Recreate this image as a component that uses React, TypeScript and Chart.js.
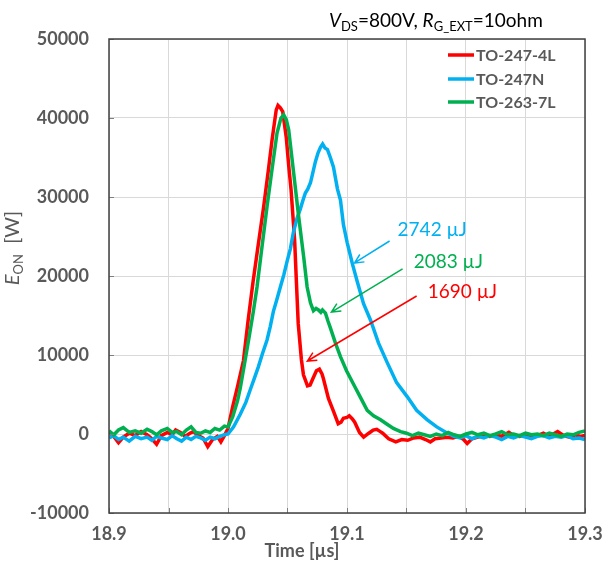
import React, { useEffect, useRef } from "react";
import { Chart, registerables } from "chart.js";

Chart.register(...registerables);

// ---------- Data ----------
const seriesNames = ["TO-247-4L", "TO-247N", "TO-263-7L"];
const seriesColors = ["#ff0000", "#00b0f0", "#00b050"];

const redTime = [
  18.9, 18.904, 18.908, 18.912, 18.917, 18.922, 18.927, 18.932, 18.936, 18.94, 18.944, 18.949, 18.953, 18.956,
  18.96, 18.964, 18.968, 18.971, 18.975, 18.979, 18.983, 18.987, 18.991, 18.994, 18.997, 19.0, 19.004, 19.008,
  19.013, 19.017, 19.021, 19.025, 19.03, 19.034, 19.037, 19.0405, 19.042, 19.044, 19.046, 19.049, 19.051, 19.053,
  19.056, 19.0575, 19.059, 19.0617, 19.0634, 19.0668, 19.069, 19.071, 19.0743, 19.0768, 19.079, 19.0802, 19.0844,
  19.0886, 19.0926, 19.095, 19.097, 19.1, 19.1019, 19.1045, 19.1065, 19.1105, 19.114, 19.1183, 19.122, 19.125,
  19.128, 19.13, 19.135, 19.141, 19.146, 19.151, 19.156, 19.161, 19.166, 19.17, 19.174, 19.179, 19.184, 19.189,
  19.194, 19.198, 19.201, 19.205, 19.21, 19.215, 19.22, 19.225, 19.23, 19.236, 19.24, 19.245, 19.25, 19.255,
  19.26, 19.265, 19.27, 19.277, 19.282, 19.287, 19.292, 19.296, 19.3,
];
const redPower = [
  200, -300, -1100, -400, 100, -200, 300, -100, -600, -1300, -200, 200, -100, 500,
  200, -300, 100, 300, -200, -500, -1600, -700, -300, -1000, -200, 700, 3500, 6000,
  9300, 14500, 19200, 23500, 28800, 33500, 37200, 41000, 41600, 41300, 40800, 37500, 34000, 30900,
  24500, 19200, 14000, 9400, 7500, 6100, 6200, 6900, 8000, 8200, 7600, 7000, 4500,
  2900, 1300, 1500, 2000, 2100, 2300, 1900, 1500, 200, -400, 100, 500, 600,
  300, 100, -600, -1000, -700, -800, -500, -400, -700, -1000, -600, -500, -400, -500,
  -300, -700, -1200, -600, -400, -200, -300, -100, -300, 200, -200, -300, -100, -300,
  -200, 100, -300, 300, -200, -400, -100, -300, -200,
];

const blueTime = [
  18.9, 18.904, 18.908, 18.912, 18.917, 18.922, 18.927, 18.932, 18.936, 18.94, 18.944, 18.949, 18.953, 18.957,
  18.961, 18.965, 18.969, 18.973, 18.977, 18.981, 18.985, 18.989, 18.993, 18.997, 19.0, 19.0047, 19.0103, 19.015,
  19.0187, 19.0225, 19.0255, 19.029, 19.0328, 19.0355, 19.0381, 19.041, 19.044, 19.047, 19.0499, 19.0525, 19.0549,
  19.058, 19.0608, 19.063, 19.065, 19.067, 19.0693, 19.0715, 19.0735, 19.0757, 19.0777, 19.0795, 19.0815, 19.0836,
  19.086, 19.0886, 19.092, 19.0945, 19.097, 19.1002, 19.1046, 19.1086, 19.1139, 19.1198, 19.1265, 19.1339, 19.1417,
  19.1507, 19.1585, 19.1675, 19.1754, 19.1844, 19.19, 19.195, 19.2, 19.205, 19.21, 19.215, 19.22, 19.225, 19.23,
  19.235, 19.24, 19.245, 19.25, 19.255, 19.26, 19.265, 19.27, 19.275, 19.28, 19.285, 19.29, 19.295, 19.3,
];
const bluePower = [
  -500, -200, -700, -400, -900, -300, -600, -400, -800, -300, -500, -700, -200, -600,
  -900, -400, -700, -300, -500, -800, -400, -600, -300, -100, 0, 900, 2500, 4000,
  5600, 7200, 8500, 10200, 11900, 13600, 15500, 17000, 18600, 20200, 22000, 23500, 25500,
  27300, 28500, 29600, 30500, 31000, 31800, 33200, 34500, 35600, 36300, 36700, 36200, 36000,
  35000, 33800, 31000, 29600, 26500, 24200, 21500, 19300, 16500, 14400, 11500, 9000, 6500,
  4700, 3000, 1800, 900, 100, -300, -500, -200, -600, -300, -500, -200, -400, -700,
  -300, -500, -200, -400, -600, -300, -200, -500, -300, -400, -200, -600, -500, -700,
];

const greenTime = [
  18.9, 18.904, 18.908, 18.912, 18.917, 18.922, 18.927, 18.932, 18.936, 18.94, 18.944, 18.949, 18.953, 18.957,
  18.961, 18.965, 18.969, 18.973, 18.977, 18.981, 18.985, 18.989, 18.993, 18.997, 19.0, 19.004, 19.008, 19.0103,
  19.014, 19.018, 19.0213, 19.0244, 19.028, 19.0328, 19.037, 19.0412, 19.0445, 19.0468, 19.049, 19.051, 19.0552,
  19.0594, 19.0636, 19.0665, 19.0693, 19.0718, 19.074, 19.076, 19.078, 19.0794, 19.0819, 19.084, 19.0861, 19.0903,
  19.0945, 19.0996, 19.1055, 19.1114, 19.117, 19.1223, 19.1282, 19.134, 19.139, 19.145, 19.15, 19.155, 19.16,
  19.165, 19.17, 19.175, 19.18, 19.185, 19.19, 19.195, 19.2, 19.205, 19.21, 19.215, 19.22, 19.225, 19.23, 19.235,
  19.24, 19.245, 19.25, 19.255, 19.26, 19.265, 19.27, 19.275, 19.28, 19.285, 19.29, 19.295, 19.3,
];
const greenPower = [
  400, -100, 500, 800, 200, 400, 100, 600, 300, -100, 400, 700, 200, 300,
  -100, 500, 900, 200, 100, 400, 200, 700, 500, 1000, 900, 2200, 4200, 5800,
  9000, 12500, 15500, 18600, 23000, 28800, 33500, 38100, 40000, 40400, 39800, 38500, 33000,
  27500, 22400, 18600, 16600, 15600, 15900, 15700, 15400, 15700, 15300, 14300, 13400, 11500,
  9800, 8000, 6300, 4600, 3000, 2300, 1800, 1200, 700, 300, 100, -200, 100,
  -100, -300, 0, -200, 200, -100, -300, 0, 200, -100, 100, -200, 0, 300, -100,
  0, -200, 100, -100, 0, -200, 100, -100, -300, 0, -100, 200, 400,
];

// axis ranges / ticks
const xMin = 18.9;
const xMax = 19.3;
const xGridStep = 0.05;
const yMin = -10000;
const yMax = 50000;
const yStep = 10000;

// annotations (data coordinates)
const annoLabels = ["2742 µJ", "2083 µJ", "1690 µJ"];
const annoColors = ["#00b0f0", "#00b050", "#ff0000"];
const annoTextTime = [19.1425, 19.156, 19.1678];
const annoTextPower = [25820, 21770, 17970];
const arrowTailTime = [19.1358, 19.1467, 19.1585];
const arrowTailPower = [24430, 20890, 17470];
const arrowHeadTime = [19.1063, 19.0869, 19.0667];
const arrowHeadPower = [21650, 15440, 9240];

const FONT = "Lato, 'Open Sans', sans-serif";
const GREY = "#595959";

function zip(t: number[], v: number[]) {
  return t.map((x, i) => ({ x, y: v[i] }));
}

type Seg = { text: string; font: string; dy: number };

function drawSegments(ctx: CanvasRenderingContext2D, segs: Seg[], x: number, y: number) {
  let cx = x;
  for (const s of segs) {
    ctx.font = s.font;
    ctx.fillText(s.text, cx, y + s.dy);
    cx += ctx.measureText(s.text).width;
  }
  return cx - x;
}
function measureSegments(ctx: CanvasRenderingContext2D, segs: Seg[]) {
  let w = 0;
  for (const s of segs) {
    ctx.font = s.font;
    w += ctx.measureText(s.text).width;
  }
  return w;
}

const decorPlugin = {
  id: "decor",
  afterDraw(chart: any) {
    const ctx: CanvasRenderingContext2D = chart.ctx;
    const { left, right, top, bottom } = chart.chartArea;
    const xs = chart.scales.x;
    const ys = chart.scales.y;
    ctx.save();

    // inner tick stubs
    ctx.strokeStyle = "#7f7f7f";
    ctx.lineWidth = 1;
    ctx.beginPath();
    for (let k = 0; k <= Math.round((xMax - xMin) / xGridStep); k++) {
      const px = Math.round(xs.getPixelForValue(xMin + k * xGridStep)) + 0.5;
      ctx.moveTo(px, bottom);
      ctx.lineTo(px, bottom - 5);
    }
    for (let v = yMin; v <= yMax; v += yStep) {
      const py = Math.round(ys.getPixelForValue(v)) + 0.5;
      ctx.moveTo(left, py);
      ctx.lineTo(left + 5, py);
    }
    ctx.stroke();

    // plot border
    ctx.strokeStyle = "#404040";
    ctx.lineWidth = 1.5;
    ctx.strokeRect(left, top, right - left, bottom - top);

    // title
    ctx.fillStyle = "#000";
    ctx.textBaseline = "alphabetic";
    ctx.textAlign = "left";
    const titleSegs: Seg[] = [
      { text: "V", font: `italic 19px ${FONT}`, dy: 0 },
      { text: "DS", font: `13px ${FONT}`, dy: 4 },
      { text: "=800V, ", font: `19px ${FONT}`, dy: 0 },
      { text: "R", font: `italic 19px ${FONT}`, dy: 0 },
      { text: "G_EXT", font: `13px ${FONT}`, dy: 4 },
      { text: "=10ohm", font: `19px ${FONT}`, dy: 0 },
    ];
    drawSegments(ctx, titleSegs, 329, 27);

    // y axis title (rotated)
    ctx.save();
    ctx.translate(19, 248);
    ctx.rotate(-Math.PI / 2);
    ctx.fillStyle = GREY;
    const ySegs: Seg[] = [
      { text: "E", font: `italic 20px ${FONT}`, dy: 0 },
      { text: "ON", font: `13px ${FONT}`, dy: 4 },
      { text: "  [W]", font: `20px ${FONT}`, dy: 0 },
    ];
    const yw = measureSegments(ctx, ySegs);
    drawSegments(ctx, ySegs, -yw / 2, 0);
    ctx.restore();

    // x axis title
    ctx.fillStyle = GREY;
    ctx.font = `bold 18px ${FONT}`;
    ctx.textAlign = "center";
    ctx.textBaseline = "middle";
    ctx.fillText("Time [µs]", 302, 551);

    // legend
    ctx.textAlign = "left";
    ctx.font = `bold 16px ${FONT}`;
    const legY = [55, 79, 102];
    seriesNames.forEach((name, i) => {
      ctx.strokeStyle = seriesColors[i];
      ctx.lineWidth = 3.5;
      ctx.beginPath();
      ctx.moveTo(448, legY[i]);
      ctx.lineTo(474, legY[i]);
      ctx.stroke();
      ctx.fillStyle = GREY;
      ctx.fillText(name, 476, legY[i] + 1);
    });

    // annotations with arrows
    annoLabels.forEach((lab, i) => {
      const c = annoColors[i];
      const tx = xs.getPixelForValue(annoTextTime[i]);
      const ty = ys.getPixelForValue(annoTextPower[i]);
      ctx.fillStyle = c;
      ctx.font = `19px ${FONT}`;
      ctx.textAlign = "left";
      ctx.textBaseline = "middle";
      ctx.fillText(lab, tx, ty);

      const x1 = xs.getPixelForValue(arrowTailTime[i]);
      const y1 = ys.getPixelForValue(arrowTailPower[i]);
      const x2 = xs.getPixelForValue(arrowHeadTime[i]);
      const y2 = ys.getPixelForValue(arrowHeadPower[i]);
      ctx.strokeStyle = c;
      ctx.lineWidth = 1.5;
      ctx.beginPath();
      ctx.moveTo(x1, y1);
      ctx.lineTo(x2, y2);
      const ang = Math.atan2(y2 - y1, x2 - x1);
      const L = 10;
      const spread = 0.45;
      ctx.moveTo(x2 - L * Math.cos(ang - spread), y2 - L * Math.sin(ang - spread));
      ctx.lineTo(x2, y2);
      ctx.lineTo(x2 - L * Math.cos(ang + spread), y2 - L * Math.sin(ang + spread));
      ctx.stroke();
    });

    ctx.restore();
  },
};

export default function App() {
  const ref = useRef<HTMLCanvasElement | null>(null);

  useEffect(() => {
    if (!ref.current) return;
    const datasets = [
      { t: redTime, v: redPower, order: 3 },
      { t: blueTime, v: bluePower, order: 2 },
      { t: greenTime, v: greenPower, order: 1 },
    ].map((s, i) => ({
      label: seriesNames[i],
      data: zip(s.t, s.v),
      borderColor: seriesColors[i],
      backgroundColor: seriesColors[i],
      borderWidth: 3.5,
      pointRadius: 0,
      tension: 0,
      order: s.order,
    }));

    const chart = new Chart(ref.current, {
      type: "line",
      data: { datasets },
      options: {
        animation: false,
        responsive: false,
        devicePixelRatio: 1,
        events: [],
        layout: { padding: { left: 0, right: 17, top: 39, bottom: 0 } },
        plugins: { legend: { display: false }, tooltip: { enabled: false }, title: { display: false } },
        scales: {
          x: {
            type: "linear",
            min: xMin,
            max: xMax,
            afterFit: (s: any) => {
              s.height = 61;
              s.paddingLeft = 0;
              s.paddingRight = 0;
            },
            afterBuildTicks: (s: any) => {
              const arr = [];
              for (let k = 0; k <= Math.round((xMax - xMin) / xGridStep); k++) {
                arr.push({ value: +(xMin + k * xGridStep).toFixed(2) });
              }
              s.ticks = arr;
            },
            grid: { color: "#d9d9d9", lineWidth: 1, drawTicks: false },
            border: { display: false },
            ticks: {
              padding: 10,
              autoSkip: false,
              maxRotation: 0,
              color: GREY,
              font: { family: FONT, size: 18, weight: "bold" },
              callback: (v: any) => {
                const n = Number(v);
                const r = Math.round(n * 10);
                return Math.abs(n * 10 - r) < 1e-6 ? (r / 10).toFixed(1) : "";
              },
            },
          },
          y: {
            min: yMin,
            max: yMax,
            afterFit: (s: any) => {
              s.width = 109;
              s.paddingTop = 0;
              s.paddingBottom = 0;
            },
            grid: { color: "#d9d9d9", lineWidth: 1, drawTicks: false },
            border: { display: false },
            ticks: {
              stepSize: yStep,
              padding: 20,
              color: GREY,
              font: { family: FONT, size: 18, weight: "bold" },
              callback: (v: any) => String(v),
            },
          },
        },
      },
      plugins: [decorPlugin],
    } as any);
    return () => chart.destroy();
  }, []);

  return (
    <div style={{ position: "absolute", left: 0, top: 0, width: 602, height: 574, background: "#fff" }}>
      <canvas ref={ref} width={602} height={574} style={{ display: "block" }} />
    </div>
  );
}
